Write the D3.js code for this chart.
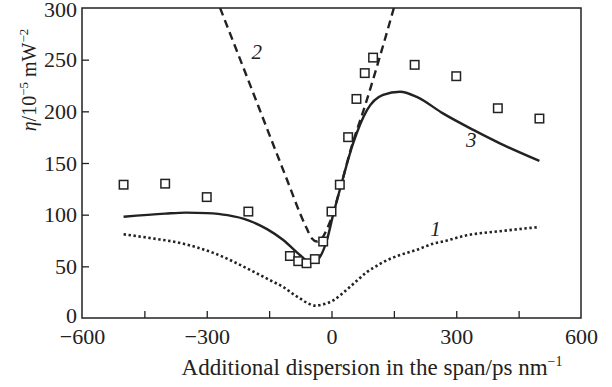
<!DOCTYPE html>
<html>
<head>
<meta charset="utf-8">
<script src="https://cdn.jsdelivr.net/npm/d3@7/dist/d3.min.js"></script>
<style>
  html, body { margin: 0; padding: 0; background: #fff; }
  svg { display: block; }
  text { font-family: "Liberation Serif", "DejaVu Serif", serif; fill: #222; }
</style>
</head>
<body>
<svg id="chart" width="612" height="387"></svg>
<script>
// Measured points (squares)
const measX = [-500, -400, -300, -200, -100, -80, -60, -40, -20, 0, 20, 40, 60, 80, 100, 200, 300, 400, 500];
const measY = [129, 130, 117, 103, 60, 55, 53, 57, 74, 103, 129, 175, 212, 237, 252, 245, 234, 203, 193];

// Curve 1 (dotted)
const c1X = [-500, -430, -364, -284, -203, -172, -140, -116, -95, -76, -58, -40, -22, 4, 24, 44, 65, 85, 105, 124, 145, 165, 205, 245, 268, 325, 405, 500];
const c1Y = [81, 77, 72.6, 63, 48, 41.6, 35, 30, 24, 19, 14.5, 12, 13, 17, 23, 30, 37.5, 44.5, 49.5, 54, 58, 61, 66, 72, 74, 80, 84, 88];

// Curve 2 (dashed)
const c2X = [-268, -200, -150, -104, -76, -60, -47, -35, -23, -10, 0, 20, 44, 85, 120, 150];
const c2Y = [300, 230, 178, 130.7, 101.6, 87, 77, 74, 77, 87, 97, 124, 160, 211, 258, 300];

// Curve 3 (solid)
const c3X = [-500, -400, -350, -300, -250, -200, -155, -116, -76, -55, -40, -28, -11, 4, 20, 52, 85, 124, 165, 205, 268, 341, 405, 500];
const c3Y = [98, 101, 102, 101.5, 99.5, 94.5, 86, 75.5, 61, 55, 55, 59, 75.5, 100, 124, 169, 201, 216, 219, 214, 198, 182, 169, 152];

// Axis ticks
const xTicks = [-600, -450, -300, -150, 0, 150, 300, 450, 600];
const xTickLabels = [-600, -300, 0, 300, 600];
const yTicks = [0, 50, 100, 150, 200, 250, 300];

// Curve labels
const curveLabels = [
  { text: "1", x: 250, y: 84 },
  { text: "2", x: -180, y: 255 },
  { text: "3", x: 336, y: 170 }
];

const svg = d3.select("#chart");
const m = { left: 82, right: 581, top: 8, bottom: 318 };

const x = d3.scaleLinear().domain([-600, 600]).range([m.left, m.right]);
const y = d3.scaleLinear().domain([0, 300]).range([m.bottom, m.top]);

const ink = "#222";

// Clip region for curves
svg.append("defs").append("clipPath").attr("id", "plotClip")
  .append("rect").attr("x", m.left).attr("y", m.top)
  .attr("width", m.right - m.left).attr("height", m.bottom - m.top);

// Frame
svg.append("rect")
  .attr("x", m.left).attr("y", m.top)
  .attr("width", m.right - m.left).attr("height", m.bottom - m.top)
  .attr("fill", "none").attr("stroke", ink).attr("stroke-width", 1.5);

// Bottom axis: inward ticks, labels only at every 300
const xAxis = d3.axisBottom(x).tickValues(xTicks).tickSizeInner(-7).tickSizeOuter(0)
  .tickFormat(d => xTickLabels.includes(d) ? (d < 0 ? "\u2212" + Math.abs(d) : String(d)) : "");
const gx = svg.append("g").attr("transform", `translate(0,${m.bottom})`).call(xAxis);
gx.select(".domain").remove();
gx.selectAll(".tick line").attr("stroke", ink).attr("stroke-width", 1.3)
  .attr("display", d => (d === -600 || d === 600) ? "none" : null);
gx.selectAll(".tick text").attr("font-size", 22).attr("fill", ink).attr("y", 10)
  .style("font-family", '"Liberation Serif", serif');

// Left axis: inward ticks
const yAxis = d3.axisLeft(y).tickValues(yTicks).tickSizeInner(-7).tickSizeOuter(0);
const gy = svg.append("g").attr("transform", `translate(${m.left},0)`).call(yAxis);
gy.select(".domain").remove();
gy.selectAll(".tick line").attr("stroke", ink).attr("stroke-width", 1.3)
  .attr("display", d => (d === 0 || d === 300) ? "none" : null);
gy.selectAll(".tick text").attr("font-size", 22).attr("fill", ink).attr("x", -5)
  .attr("dy", d => d === 0 ? "0.2em" : d === 300 ? "0.38em" : "0.32em")
  .style("font-family", '"Liberation Serif", serif');

// Curves
const line = d3.line().x(d => x(d[0])).y(d => y(d[1])).curve(d3.curveMonotoneX);
const plot = svg.append("g").attr("clip-path", "url(#plotClip)");

plot.append("path").datum(d3.zip(c1X, c1Y)).attr("d", line)
  .attr("fill", "none").attr("stroke", ink).attr("stroke-width", 2.6)
  .attr("stroke-dasharray", "2.4,2.6");

plot.append("path").datum(d3.zip(c2X, c2Y)).attr("d", line)
  .attr("fill", "none").attr("stroke", ink).attr("stroke-width", 2.4)
  .attr("stroke-dasharray", "8,5");

plot.append("path").datum(d3.zip(c3X, c3Y)).attr("d", line)
  .attr("fill", "none").attr("stroke", ink).attr("stroke-width", 2.4);

// Measured squares
const sq = 8.5;
svg.append("g").selectAll("rect").data(d3.zip(measX, measY)).join("rect")
  .attr("x", d => x(d[0]) - sq / 2).attr("y", d => y(d[1]) - sq / 2)
  .attr("width", sq).attr("height", sq)
  .attr("fill", "#fff").attr("stroke", ink).attr("stroke-width", 1.5);

// Curve numbers
svg.append("g").selectAll("text").data(curveLabels).join("text")
  .attr("x", d => x(d.x)).attr("y", d => y(d.y))
  .attr("text-anchor", "middle").attr("dominant-baseline", "middle")
  .attr("font-size", 21).attr("font-style", "italic").attr("fill", ink)
  .text(d => d.text);

// X axis title
const xt = svg.append("text").attr("x", 372).attr("y", 375).attr("text-anchor", "middle")
  .attr("font-size", 23);
xt.append("tspan").text("Additional dispersion in the span/ps nm");
xt.append("tspan").attr("font-size", 14).attr("dy", -9).text("\u22121");

// Y axis title
const yt = svg.append("text").attr("transform", "translate(36,80) rotate(-90)")
  .attr("text-anchor", "middle").attr("font-size", 20);
yt.append("tspan").attr("font-style", "italic").text("\u03B7");
yt.append("tspan").text("/10");
yt.append("tspan").attr("font-size", 13).attr("dy", -8).text("\u22125");
yt.append("tspan").attr("dy", 8).text(" mW");
yt.append("tspan").attr("font-size", 13).attr("dy", -8).text("\u22122");
</script>
</body>
</html>
